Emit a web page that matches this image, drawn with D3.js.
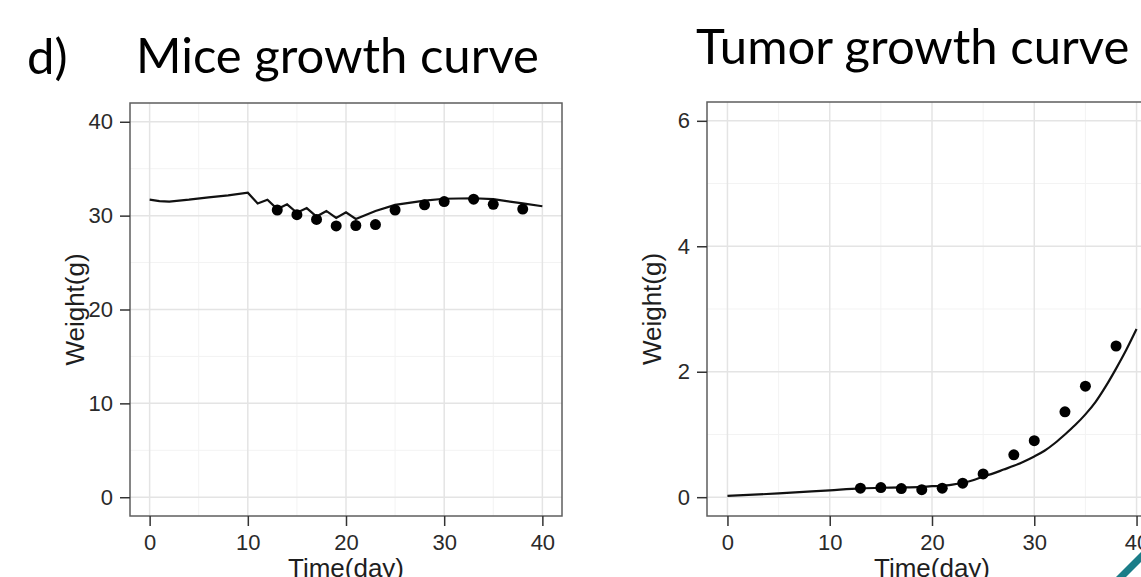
<!DOCTYPE html>
<html>
<head>
<meta charset="utf-8">
<script src="https://cdn.jsdelivr.net/npm/d3@7"></script>
<style>
  body { margin: 0; background: #fff; }
  svg { display: block; }
  .title { font-family: Lato, "Open Sans", sans-serif; font-size: 49px; fill: #000; }
  .axis-title { font-family: "Liberation Sans", Arial, sans-serif; font-size: 26px; fill: #1e1e1e; }
</style>
</head>
<body>
<div class="container"></div>
<script>
// shared x ticks (days)
const xTicks = [0, 10, 20, 30, 40];

// Mice body weight: model curve and observed means
const miceLineDays = [0, 1, 2, 4, 6, 8, 10, 11, 12, 13, 14, 15, 16, 17, 18, 19, 20, 21, 23, 25, 28, 30, 33, 35, 38, 40];
const miceLineWeight = [31.7, 31.55, 31.5, 31.7, 31.95, 32.15, 32.45, 31.3, 31.7, 30.7, 31.2, 30.3, 30.8, 29.9, 30.5, 29.75, 30.35, 29.65, 30.5, 31.15, 31.6, 31.8, 31.85, 31.75, 31.3, 31.0];
const miceObsDays = [13, 15, 17, 19, 21, 23, 25, 28, 30, 33, 35, 38];
const miceObsWeight = [30.6, 30.1, 29.6, 28.9, 28.95, 29.05, 30.6, 31.15, 31.5, 31.75, 31.2, 30.7];
const miceYTicks = [0, 10, 20, 30, 40];

// Tumor weight: model curve and observed means
const tumorLineDays = [0, 5, 10, 13, 15, 17, 19, 20, 21, 22, 23, 24, 25, 26, 27, 28, 29, 30, 31, 32, 33, 34, 35, 36, 37, 38, 39, 40];
const tumorLineWeight = [0.02, 0.06, 0.11, 0.14, 0.15, 0.155, 0.165, 0.175, 0.18, 0.2, 0.23, 0.27, 0.33, 0.38, 0.44, 0.5, 0.57, 0.65, 0.74, 0.86, 1.0, 1.15, 1.32, 1.52, 1.77, 2.05, 2.35, 2.68];
const tumorObsDays = [13, 15, 17, 19, 21, 23, 25, 28, 30, 33, 35, 38];
const tumorObsWeight = [0.144, 0.154, 0.138, 0.12, 0.144, 0.223, 0.37, 0.675, 0.9, 1.36, 1.77, 2.41];
const tumorYTicks = [0, 2, 4, 6];

const W = 1141, H = 577;
const svg = d3.select(".container").append("svg").attr("width", W).attr("height", H);

function drawPanel(p) {
  const x = d3.scaleLinear().domain([-2, 42]).range([p.left, p.right]);
  const y = d3.scaleLinear().domain(p.yDomain).range([p.bottom, p.top]);
  const g = svg.append("g");

  // minor grid = midpoints between major ticks
  const xMinor = xTicks.slice(0, -1).map((v, i) => (v + xTicks[i + 1]) / 2);
  const yMinor = p.yTicks.slice(0, -1).map((v, i) => (v + p.yTicks[i + 1]) / 2);

  g.selectAll(".xminor").data(xMinor).enter().append("line")
    .attr("x1", d => x(d)).attr("x2", d => x(d)).attr("y1", p.top).attr("y2", p.bottom)
    .attr("stroke", "#f3f3f3").attr("stroke-width", 1);
  g.selectAll(".yminor").data(yMinor).enter().append("line")
    .attr("x1", p.left).attr("x2", p.right).attr("y1", d => y(d)).attr("y2", d => y(d))
    .attr("stroke", "#f3f3f3").attr("stroke-width", 1);
  g.selectAll(".xmajor").data(xTicks).enter().append("line")
    .attr("x1", d => x(d)).attr("x2", d => x(d)).attr("y1", p.top).attr("y2", p.bottom)
    .attr("stroke", "#e4e4e4").attr("stroke-width", 1.5);
  g.selectAll(".ymajor").data(p.yTicks).enter().append("line")
    .attr("x1", p.left).attr("x2", p.right).attr("y1", d => y(d)).attr("y2", d => y(d))
    .attr("stroke", "#e4e4e4").attr("stroke-width", 1.5);

  //model line
  const pts = p.lineX.map((d, i) => [d, p.lineY[i]]);
  g.append("path").datum(pts)
    .attr("d", d3.line().x(d => x(d[0])).y(d => y(d[1])).curve(p.curve))
    .attr("fill", "none").attr("stroke", "#111").attr("stroke-width", 2.2);

  //observed points
  g.selectAll(".dot").data(p.obsX.map((d, i) => [d, p.obsY[i]])).enter().append("circle")
    .attr("cx", d => x(d[0])).attr("cy", d => y(d[1])).attr("r", 5.5).attr("fill", "#000");

  //panel border
  g.append("rect").attr("x", p.left).attr("y", p.top)
    .attr("width", p.right - p.left).attr("height", p.bottom - p.top)
    .attr("fill", "none").attr("stroke", "#5e5e5e").attr("stroke-width", 1.5);

  //axes
  const xAxis = d3.axisBottom(x).tickValues(xTicks).tickFormat(d3.format("d")).tickSize(10).tickPadding(8);
  const yAxis = d3.axisLeft(y).tickValues(p.yTicks).tickFormat(d3.format("d")).tickSize(10).tickPadding(7);
  const styleAxis = a => {
    a.select(".domain").remove();
    a.selectAll(".tick line").attr("stroke", "#333").attr("stroke-width", 1.5);
    a.selectAll(".tick text").style("font-family", "'Liberation Sans', Arial, sans-serif")
      .style("font-size", "22px").attr("fill", "#2a2a2a");
  };
  g.append("g").attr("transform", "translate(0," + p.bottom + ")").call(xAxis).call(styleAxis);
  g.append("g").attr("transform", "translate(" + p.left + ",0)").call(yAxis).call(styleAxis);

  //axis titles
  g.append("text").attr("class", "axis-title").attr("x", x(20)).attr("y", 577)
    .attr("text-anchor", "middle").text("Time(day)");
  g.append("text").attr("class", "axis-title")
    .attr("transform", "translate(" + (p.left - 46) + "," + ((p.top + p.bottom) / 2) + ") rotate(-90)")
    .attr("text-anchor", "middle").text("Weight(g)");

  //title
  g.append("text").attr("class", "title").attr("x", p.titleX).attr("y", p.titleY).text(p.title);
}

drawPanel({
  left: 130, right: 562, top: 103, bottom: 516, yDomain: [-2, 42], yTicks: miceYTicks,
  lineX: miceLineDays, lineY: miceLineWeight, obsX: miceObsDays, obsY: miceObsWeight,
  curve: d3.curveLinear, title: "Mice growth curve", titleX: 136, titleY: 73
});

drawPanel({
  left: 707, right: 1157, top: 102, bottom: 516, yDomain: [-0.3, 6.3], yTicks: tumorYTicks,
  lineX: tumorLineDays, lineY: tumorLineWeight, obsX: tumorObsDays, obsY: tumorObsWeight,
  curve: d3.curveMonotoneX, title: "Tumor growth curve", titleX: 696, titleY: 64
});

svg.append("text").attr("class", "title").attr("x", 27).attr("y", 74).text("d)");

// slide decoration in the corner
svg.append("polygon").attr("points", "1116,577 1126,577 1141,562 1141,552").attr("fill", "#1b7d88");
</script>
</body>
</html>
